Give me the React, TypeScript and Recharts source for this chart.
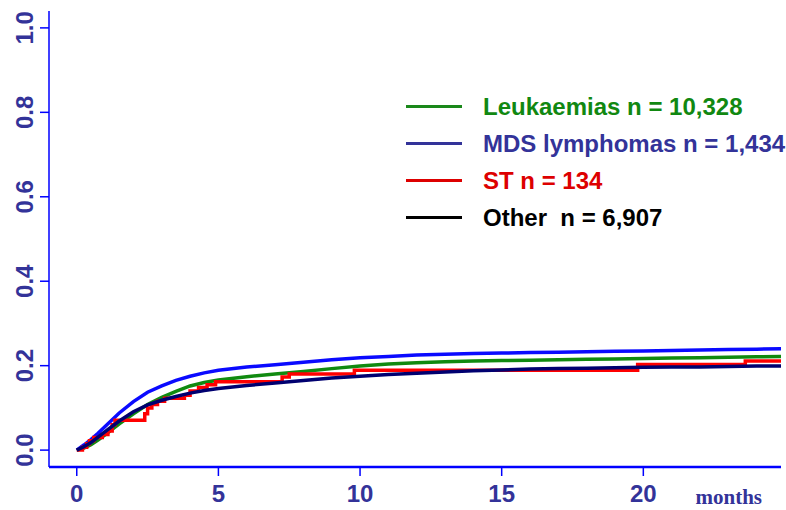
import React from 'react'
import { Line, LineChart, XAxis, YAxis } from 'recharts'

const months = [0, 0.25, 0.5, 0.75, 1, 1.5, 2, 2.5, 3, 3.5, 4, 4.5, 5, 6, 7, 8, 9, 10, 11, 12, 13, 14, 15, 16, 17, 18, 19, 20, 21, 22, 23, 24, 24.9]
const mdsValues = [0, 0.012, 0.025, 0.04, 0.056, 0.088, 0.115, 0.137, 0.152, 0.165, 0.175, 0.183, 0.189, 0.197, 0.202, 0.208, 0.214, 0.219, 0.222, 0.225, 0.227, 0.229, 0.23, 0.231, 0.232, 0.233, 0.234, 0.235, 0.236, 0.237, 0.238, 0.239, 0.24]
const leukValues = [0, 0.005, 0.013, 0.024, 0.036, 0.062, 0.086, 0.108, 0.125, 0.139, 0.152, 0.16, 0.166, 0.174, 0.18, 0.186, 0.193, 0.199, 0.204, 0.207, 0.209, 0.211, 0.212, 0.213, 0.214, 0.215, 0.216, 0.217, 0.218, 0.219, 0.22, 0.221, 0.222]
const otherValues = [0, 0.008, 0.018, 0.031, 0.044, 0.069, 0.091, 0.107, 0.118, 0.127, 0.135, 0.141, 0.146, 0.153, 0.159, 0.165, 0.171, 0.175, 0.179, 0.182, 0.185, 0.188, 0.19, 0.192, 0.193, 0.194, 0.195, 0.196, 0.197, 0.197, 0.198, 0.199, 0.199]

// ST is a step curve with its own event times
const stMonths = [0, 0.2, 0.35, 0.45, 0.6, 0.9, 1.1, 1.25, 1.35, 2.4, 2.5, 2.65, 2.85, 3.1, 3.8, 4.0, 4.3, 4.6, 4.9, 7.25, 7.5, 9.8, 19.8, 23.6, 24.9]
const stValues = [0, 0.007, 0.015, 0.022, 0.03, 0.037, 0.045, 0.06, 0.071, 0.086, 0.1, 0.108, 0.116, 0.123, 0.13, 0.14, 0.148, 0.155, 0.162, 0.173, 0.18, 0.189, 0.203, 0.211, 0.211]

const xTicks = [0, 5, 10, 15, 20]
const yTicks = [0, 0.2, 0.4, 0.6, 0.8, 1.0]

const legendItems = [
  { label: 'Leukaemias n = 10,328', line: '#1a881a', text: '#118811' },
  { label: 'MDS lymphomas n = 1,434', line: '#333399', text: '#333399' },
  { label: 'ST n = 134', line: '#dd0000', text: '#dd0000' },
  { label: 'Other\u00a0 n = 6,907', line: '#000000', text: '#000000' },
]

const toRows = (ts: number[], vs: number[]) => ts.map((t, i) => ({ t, v: vs[i] }))

const FONT = 'Liberation Sans, Arial, Helvetica, sans-serif'
const LABEL = '#333399'
const AXIS = '#0000ff'

function YTick({ x, y, payload }: any) {
  return (
    <text x={x} y={y} transform={`rotate(-90 ${x} ${y})`} textAnchor="middle" fill={LABEL} fontSize={24} fontWeight="bold" fontFamily={FONT}>
      {Number(payload.value).toFixed(1)}
    </text>
  )
}

function MonthsLabel({ viewBox }: any) {
  const { x, y, width, height } = viewBox
  return (
    <text x={x + width - 19} y={y + height - 6} textAnchor="end" fill={LABEL} fontSize={21} fontWeight="bold" fontFamily="Liberation Serif, Times New Roman, serif">
      months
    </text>
  )
}

function LegendBox() {
  return (
    <div style={{ position: 'absolute', left: 406, top: 88, fontFamily: FONT, fontWeight: 'bold', fontSize: 24 }}>
      {legendItems.map((item) => (
        <div key={item.label} style={{ display: 'flex', alignItems: 'center', height: 37 }}>
          <div style={{ width: 56, height: 3, background: item.line, marginRight: 21 }} />
          <span style={{ color: item.text, whiteSpace: 'pre' }}>{item.label}</span>
        </div>
      ))}
    </div>
  )
}

export default function App() {
  return (
    <div style={{ position: 'absolute', left: 0, top: 0, width: 786, height: 510, background: '#fff' }}>
      <LineChart width={786} height={510} margin={{ top: 11, right: 5, bottom: 0, left: 0 }}>
        <XAxis
          dataKey="t"
          type="number"
          domain={[-0.98, 24.86]}
          allowDataOverflow
          ticks={xTicks}
          tickSize={9}
          tickMargin={9}
          height={43}
          axisLine={{ stroke: AXIS, strokeWidth: 2.5 }}
          tickLine={{ stroke: AXIS, strokeWidth: 1.5 }}
          tick={{ fill: LABEL, fontSize: 24, fontWeight: 'bold', fontFamily: FONT }}
          label={<MonthsLabel />}
        />
        <YAxis
          type="number"
          domain={[-0.04, 1.04]}
          allowDataOverflow
          ticks={yTicks}
          width={49}
          tickSize={9}
          tickMargin={7}
          axisLine={{ stroke: AXIS, strokeWidth: 1.5 }}
          tickLine={{ stroke: AXIS, strokeWidth: 1.5 }}
          tick={<YTick />}
        />
        <Line data={toRows(months, leukValues)} dataKey="v" name="Leukaemias" type="linear" stroke="#108a10" strokeWidth={3.5} dot={false} isAnimationActive={false} />
        <Line data={toRows(months, mdsValues)} dataKey="v" name="MDS lymphomas" type="linear" stroke="#0a0aff" strokeWidth={3.5} dot={false} isAnimationActive={false} />
        <Line data={toRows(stMonths, stValues)} dataKey="v" name="ST" type="stepAfter" stroke="#ff0000" strokeWidth={3.5} dot={false} isAnimationActive={false} />
        <Line data={toRows(months, otherValues)} dataKey="v" name="Other" type="linear" stroke="#000070" strokeWidth={3.5} dot={false} isAnimationActive={false} />
      </LineChart>
      <LegendBox />
    </div>
  )
}
